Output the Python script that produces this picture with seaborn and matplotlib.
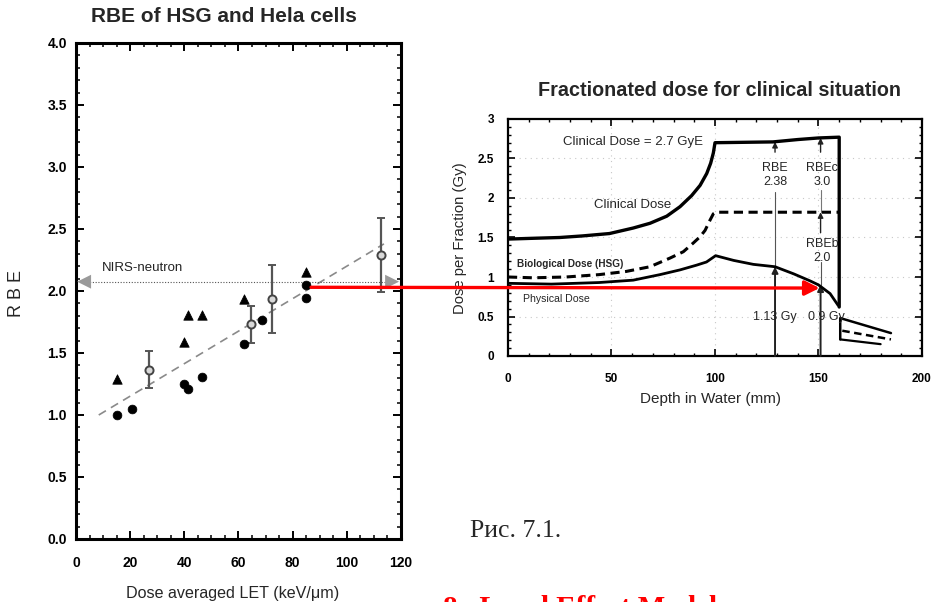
import matplotlib
matplotlib.use("Agg")
import matplotlib.pyplot as plt
import seaborn as sns
from matplotlib.patches import ConnectionPatch
from matplotlib.ticker import MultipleLocator

# ---------------- RBE vs dose-averaged LET ----------------
circ_let = [15, 20.5, 40, 41.5, 46.5, 62, 68.5, 85, 85]
circ_rbe = [1.0, 1.05, 1.25, 1.21, 1.31, 1.57, 1.77, 1.94, 2.05]
tri_let = [15, 40, 41.5, 46.5, 62, 85]
tri_rbe = [1.29, 1.59, 1.81, 1.81, 1.935, 2.15]
mean_let = [27, 64.5, 72.5, 112.5]
mean_rbe = [1.36, 1.73, 1.935, 2.29]
mean_lo = [1.22, 1.58, 1.66, 1.99]
mean_hi = [1.52, 1.88, 2.21, 2.59]
fit_let = [8.4, 113.7]
fit_rbe = [1.0, 2.38]
nirs_rbe = 2.075
nirs_let = [3.0, 116.7]

# ---------------- Fractionated dose vs depth ----------------
clin_depth = [0, 12, 25, 36, 49, 60.5, 68.6, 76.7, 83.1, 88.7, 92.8, 96.0, 97.9, 99.2,
              100, 128, 140, 150, 160, 160]
clin_dose = [1.48, 1.49, 1.50, 1.52, 1.55, 1.62, 1.68, 1.77, 1.89, 2.03, 2.16, 2.31, 2.44, 2.57,
             2.70, 2.71, 2.74, 2.76, 2.77, 0.62]
bio_depth = [0, 12, 28, 44, 57, 68.6, 78.3, 84.7, 89.5, 92.8, 95.2, 97.6, 99.2, 100.5, 160]
bio_dose = [1.0, 0.99, 1.0, 1.03, 1.07, 1.13, 1.24, 1.32, 1.43, 1.51, 1.59, 1.72, 1.80, 1.82, 1.82]
phys_depth = [0, 21, 44, 60.5, 73.4, 83.1, 91.1, 95.9, 99.2, 100.3, 109, 118.5, 129, 138, 146,
              150, 155.6, 159.5]
phys_dose = [0.92, 0.91, 0.93, 0.96, 1.03, 1.09, 1.15, 1.19, 1.25, 1.27, 1.21, 1.16, 1.13, 1.04,
             0.95, 0.90, 0.79, 0.64]
tail_top_depth = [160.5, 160.5, 185]
tail_top_dose = [0.21, 0.48, 0.29]
tail_bio_depth = [161.5, 185]
tail_bio_dose = [0.32, 0.21]
tail_low_depth = [160.5, 180]
tail_low_dose = [0.21, 0.15]
mark_depth = [129, 151]
mark_phys = [1.13, 0.90]
mark_clin = [2.71, 2.76]
mark_bio = 1.82

sns.set_theme(style="ticks")
plt.rcParams["font.family"] = ["Liberation Sans", "DejaVu Sans"]

W, H = 937, 602
fig = plt.figure(figsize=(W / 100, H / 100), dpi=100)
fig.patch.set_facecolor("white")


def fx(px):
    return px / W


def fy(py):
    return 1 - py / H


# ================= left panel =================
ax1 = fig.add_axes([fx(76), fy(539), (401 - 76) / W, (539 - 43) / H])
ax1.set_facecolor("white")
ax1.set_xlim(0, 120)
ax1.set_ylim(0, 4)

sns.lineplot(x=fit_let, y=fit_rbe, ax=ax1, color="#8a8a8a", lw=1.2,
             linestyle=(0, (5, 3.5)), zorder=2)
sns.lineplot(x=nirs_let, y=[nirs_rbe, nirs_rbe], ax=ax1, color="#555555",
             lw=0.8, linestyle=(0, (1, 1.5)), zorder=2)
sns.scatterplot(x=[nirs_let[0]], y=[nirs_rbe], ax=ax1, marker="<", s=100,
                color="#9a9a9a", edgecolor="none", zorder=3)
sns.scatterplot(x=[nirs_let[1]], y=[nirs_rbe], ax=ax1, marker=">", s=100,
                color="#9a9a9a", edgecolor="none", zorder=3)

ax1.errorbar(mean_let, mean_rbe,
             yerr=[[m - lo for m, lo in zip(mean_rbe, mean_lo)],
                   [hi - m for m, hi in zip(mean_rbe, mean_hi)]],
             fmt="none", ecolor="#555555", elinewidth=1.6, capsize=3, capthick=1.4, zorder=3)
sns.scatterplot(x=mean_let, y=mean_rbe, ax=ax1, marker="o", s=34,
                facecolor="#d8d8d8", edgecolor="#444444", linewidth=1.4, zorder=4)
sns.scatterplot(x=circ_let, y=circ_rbe, ax=ax1, marker="o", s=40,
                color="black", edgecolor="black", zorder=4)
sns.scatterplot(x=tri_let, y=tri_rbe, ax=ax1, marker="^", s=46,
                color="black", edgecolor="black", zorder=4)

ax1.text(9.5, 2.16, "NIRS-neutron", fontsize=9.5, color="#222222")

ax1.xaxis.set_major_locator(MultipleLocator(20))
ax1.xaxis.set_minor_locator(MultipleLocator(5))
ax1.set_yticks([0, 0.5, 1, 1.5, 2, 2.5, 3, 3.5, 4])
ax1.set_yticklabels(["0.0", "0.5", "1.0", "1.5", "2.0", "2.5", "3.0", "3.5", "4.0"])
ax1.yaxis.set_minor_locator(MultipleLocator(0.1))
ax1.tick_params(which="both", direction="in", top=True, right=True,
                labelsize=10, width=1.4, colors="black")
ax1.tick_params(axis="y", which="major", length=6, pad=6.5)
ax1.tick_params(axis="x", which="major", length=6, pad=12)
ax1.tick_params(which="minor", length=3, width=1.1)
for lab in ax1.get_xticklabels() + ax1.get_yticklabels():
    lab.set_fontweight("bold")
for s in ax1.spines.values():
    s.set_linewidth(2.2)
    s.set_color("black")
ax1.set_xlabel("Dose averaged LET (keV/\u03bcm)", fontsize=11.6)
ax1.xaxis.set_label_coords(0.483, -0.095)
ax1.set_ylabel("R B E", fontsize=13)
ax1.yaxis.set_label_coords(-0.158, 0.495)
fig.text(fx(224), fy(17), "RBE of HSG and Hela cells", ha="center", va="center",
         fontsize=15, fontweight="bold")

# ================= right panel =================
ax2 = fig.add_axes([fx(508), fy(356), (922 - 508) / W, (356 - 119) / H])
ax2.set_facecolor("white")
ax2.set_xlim(0, 200)
ax2.set_ylim(0, 3)
for gx in [50, 100, 150]:
    ax2.axvline(gx, color="#c8c8c8", lw=0.8, linestyle=(0, (1, 4)), zorder=0)
for gy in [0.5, 1, 1.5, 2, 2.5]:
    ax2.axhline(gy, color="#c8c8c8", lw=0.8, linestyle=(0, (1, 4)), zorder=0)

# guide lines and arrows marking the RBE read-outs
for d, p in zip(mark_depth, mark_phys):
    ax2.annotate("", xy=(d, p), xytext=(d, 0),
                 arrowprops=dict(arrowstyle="-|>", color="#222222", lw=1.4,
                                 mutation_scale=9, shrinkA=0, shrinkB=0), zorder=3)
ax2.plot([mark_depth[0]] * 2, [mark_phys[0], 2.08], color="#555555", lw=0.8, zorder=2)
ax2.plot([mark_depth[1]] * 2, [mark_phys[1], 1.19], color="#555555", lw=0.8, zorder=2)
ax2.plot([mark_depth[1]] * 2, [mark_bio, 2.10], color="#777777", lw=0.8, zorder=2)
for d, c in zip(mark_depth, mark_clin):
    ax2.annotate("", xy=(d, c), xytext=(d, 2.58),
                 arrowprops=dict(arrowstyle="-|>", color="#222222", lw=1.0,
                                 mutation_scale=8, shrinkA=0, shrinkB=0), zorder=3)
ax2.annotate("", xy=(mark_depth[1], mark_bio), xytext=(mark_depth[1], 1.56),
             arrowprops=dict(arrowstyle="-|>", color="#222222", lw=1.0,
                             mutation_scale=8, shrinkA=0, shrinkB=0), zorder=3)

sns.lineplot(x=clin_depth, y=clin_dose, ax=ax2, sort=False, estimator=None,
             color="black", lw=2.4, zorder=4)
sns.lineplot(x=bio_depth, y=bio_dose, ax=ax2, sort=False, estimator=None,
             color="black", lw=2.2, linestyle=(0, (3, 1.8)), zorder=4)
sns.lineplot(x=phys_depth, y=phys_dose, ax=ax2, sort=False, estimator=None,
             color="black", lw=2.0, zorder=4)
sns.lineplot(x=tail_top_depth, y=tail_top_dose, ax=ax2, sort=False, estimator=None,
             color="black", lw=1.8, zorder=4)
sns.lineplot(x=tail_bio_depth, y=tail_bio_dose, ax=ax2, sort=False, estimator=None,
             color="black", lw=1.8, linestyle=(0, (3, 1.8)), zorder=4)
sns.lineplot(x=tail_low_depth, y=tail_low_dose, ax=ax2, sort=False, estimator=None,
             color="black", lw=1.6, zorder=4)

ax2.text(94.2, 2.71, "Clinical Dose = 2.7 GyE", ha="right", va="center", fontsize=9.5)
ax2.text(60.4, 1.91, "Clinical Dose", ha="center", va="center", fontsize=9.5)
ax2.text(4.5, 1.16, "Biological Dose (HSG)", ha="left", va="center", fontsize=7.2,
         fontweight="bold")
ax2.text(7.2, 0.72, "Physical Dose", ha="left", va="center", fontsize=7.6)
ax2.text(mark_depth[0], 2.29, "RBE\n2.38", ha="center", va="center",
         fontsize=9, linespacing=1.3, zorder=5)
ax2.text(mark_depth[1] + 0.7, 2.29, "RBEc\n3.0", ha="center", va="center",
         fontsize=9, linespacing=1.3, zorder=5)
ax2.text(mark_depth[1] + 0.7, 1.33, "RBEb\n2.0", ha="center", va="center",
         fontsize=9, linespacing=1.3, zorder=5)
ax2.text(mark_depth[0], 0.49, "1.13 Gy", ha="center", va="center", fontsize=9, zorder=5)
ax2.text(mark_depth[1] + 2.6, 0.49, "0.9 Gy", ha="center", va="center", fontsize=9, zorder=5)

ax2.xaxis.set_major_locator(MultipleLocator(50))
ax2.xaxis.set_minor_locator(MultipleLocator(10))
ax2.set_yticks([0, 0.5, 1, 1.5, 2, 2.5, 3])
ax2.set_yticklabels(["0", "0.5", "1", "1.5", "2", "2.5", "3"])
ax2.yaxis.set_minor_locator(MultipleLocator(0.1))
ax2.tick_params(which="both", direction="in", top=True, right=True,
                labelsize=8.5, width=1.2, colors="black")
ax2.tick_params(axis="y", which="major", length=5, pad=10)
ax2.tick_params(axis="x", which="major", length=5, pad=12)
ax2.tick_params(which="minor", length=2.5, width=1.0)
for lab in ax2.get_xticklabels() + ax2.get_yticklabels():
    lab.set_fontweight("bold")
for s in ax2.spines.values():
    s.set_linewidth(1.6)
    s.set_color("black")
ax2.set_xlabel("Depth in Water (mm)", fontsize=11)
ax2.xaxis.set_label_coords(0.49, -0.15)
ax2.set_ylabel("Dose per Fraction (Gy)", fontsize=10.7)
ax2.yaxis.set_label_coords(-0.098, 0.498)
fig.text(fx(720), fy(91), "Fractionated dose for clinical situation", ha="center",
         va="center", fontsize=14.2, fontweight="bold")

# ================= connector between the panels =================
con = ConnectionPatch(xyA=(86.8, 2.03), coordsA=ax1.transData,
                      xyB=(150.5, 0.86), coordsB=ax2.transData,
                      arrowstyle="-|>", color="#ff0000", lw=2.4,
                      mutation_scale=22, shrinkA=0, shrinkB=0, zorder=10)
fig.add_artist(con)

# ================= captions =================
fig.text(fx(470), fy(531), "Рис. 7.1.", ha="left", va="center",
         fontsize=18.5, family=["Liberation Serif", "DejaVu Serif"])
fig.text(fx(443), fy(595), "8.  Local Effect Model", ha="left", va="top",
         fontsize=21, fontweight="bold", color="#ff0000",
         family=["Liberation Serif", "DejaVu Serif"])

fig.savefig("out.png", dpi=100, facecolor="white")
